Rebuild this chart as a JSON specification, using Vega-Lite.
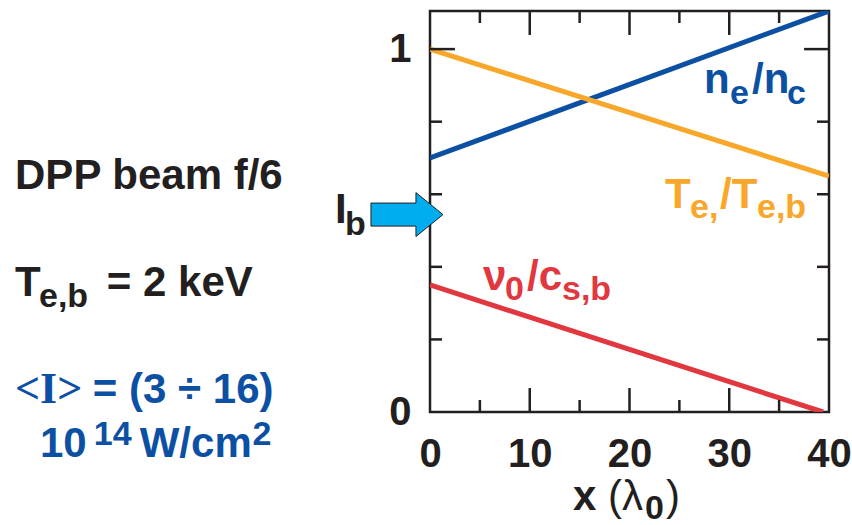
{
  "$schema": "https://vega.github.io/schema/vega-lite/v6.json",
  "width": 399,
  "height": 401,
  "autosize": {"type": "none"},
  "padding": {"left": 430, "top": 11, "right": 23, "bottom": 113},
  "background": "white",
  "config": {
    "view": {"stroke": "#231f20", "strokeWidth": 2.5},
    "axis": {
      "domain": false,
      "grid": false,
      "title": null,
      "tickColor": "#231f20",
      "tickWidth": 2.5,
      "labelFont": "Liberation Sans",
      "labelFontWeight": "bold",
      "labelFontSize": 40,
      "labelColor": "#231f20",
      "labelFlush": false,
      "labelOverlap": false
    }
  },
  "datasets": {
    "lines": [
      {"s": "blue", "x": 0, "y": 0.70},
      {"s": "blue", "x": 40, "y": 1.105},
      {"s": "orange", "x": 0, "y": 1.0},
      {"s": "orange", "x": 40, "y": 0.65},
      {"s": "red", "x": 0, "y": 0.35},
      {"s": "red", "x": 39.4, "y": 0.0}
    ],
    "xmaj": [{"xm": 10}, {"xm": 20}, {"xm": 30}],
    "xminor": [{"v": 5}, {"v": 15}, {"v": 25}, {"v": 35}],
    "ymaj": [{"ym": 1}],
    "yminor": [{"v": 0.2}, {"v": 0.4}, {"v": 0.6}, {"v": 0.8}],
    "big": [
      {"t": "DPP beam f/6", "x": -41.6, "y": 0.614, "c": "dark"},
      {"t": "T", "x": -41.6, "y": 0.320, "c": "dark"},
      {"t": "= 2 keV", "x": -32.4, "y": 0.320, "c": "dark"},
      {"t": "= (3 ÷ 16)", "x": -33.8, "y": 0.025, "c": "blue"},
      {"t": "10", "x": -39.1, "y": -0.124, "c": "blue"},
      {"t": "W/cm", "x": -29.1, "y": -0.124, "c": "blue"},
      {"t": "I", "x": -9.52, "y": 0.521, "c": "dark"},
      {"t": "n", "x": 27.47, "y": 0.879, "c": "blue"},
      {"t": "/n", "x": 32.28, "y": 0.879, "c": "blue"},
      {"t": "T", "x": 23.56, "y": 0.562, "c": "orange"},
      {"t": "/T", "x": 29.07, "y": 0.562, "c": "orange"},
      {"t": "ν", "x": 5.31, "y": 0.336, "c": "red"},
      {"t": "/c", "x": 9.72, "y": 0.336, "c": "red"},
      {"t": "x", "x": 14.34, "y": -0.270, "c": "dark"}
    ],
    "sub": [
      {"t": "e,b", "x": -39.2, "y": 0.289, "c": "dark"},
      {"t": "14", "x": -33.7, "y": -0.091, "c": "blue"},
      {"t": "2", "x": -17.8, "y": -0.091, "c": "blue"},
      {"t": "b", "x": -8.52, "y": 0.488, "c": "dark"},
      {"t": "e", "x": 30.07, "y": 0.848, "c": "blue"},
      {"t": "c", "x": 35.79, "y": 0.848, "c": "blue"},
      {"t": "e,", "x": 26.07, "y": 0.534, "c": "orange"},
      {"t": "e,b", "x": 32.78, "y": 0.534, "c": "orange"},
      {"t": "0", "x": 7.52, "y": 0.309, "c": "red"},
      {"t": "s,b", "x": 13.23, "y": 0.309, "c": "red"},
      {"t": "0", "x": 21.55, "y": -0.295, "c": "dark"}
    ],
    "serif": [
      {"t": "<I>", "x": -41.6, "y": 0.025, "c": "blue"}
    ],
    "reg": [
      {"t": "(λ", "x": 17.84, "y": -0.270, "c": "dark"},
      {"t": ")", "x": 23.66, "y": -0.270, "c": "dark"}
    ],
    "arrow": [
      {"x": -2.31, "y": 0.544}
    ]
  },
  "layer": [
    {
      "data": {"name": "lines"},
      "mark": {"type": "line", "strokeWidth": 5, "clip": true},
      "encoding": {
        "x": {
          "field": "x", "type": "quantitative",
          "scale": {"domain": [0, 40], "nice": false, "zero": false},
          "axis": {
            "orient": "bottom",
            "values": [0, 10, 20, 30, 40],
            "tickSize": -12,
            "tickOpacity": 0,
            "labelPadding": 34
          }
        },
        "y": {
          "field": "y", "type": "quantitative",
          "scale": {"domain": [0, 1.105], "nice": false, "zero": false},
          "axis": {
            "orient": "left",
            "values": [0, 1],
            "format": "d",
            "tickSize": -12,
            "tickOpacity": 0,
            "labelPadding": 31
          }
        },
        "color": {
          "field": "s", "type": "nominal",
          "scale": {"domain": ["dark", "blue", "orange", "red"], "range": ["#231f20", "#0c50a3", "#f8a72a", "#e1373e"]},
          "legend": null
        }
      }
    },
    {
      "data": {"name": "xmaj"},
      "mark": {"type": "rule", "color": "#231f20", "strokeWidth": 2.5},
      "encoding": {
        "x": {"field": "xm", "type": "quantitative", "axis": null},
        "y": {"datum": 0, "type": "quantitative", "axis": null},
        "y2": {"datum": 0.066}
      }
    },
    {
      "data": {"name": "xmaj"},
      "mark": {"type": "rule", "color": "#231f20", "strokeWidth": 2.5},
      "encoding": {
        "x": {"field": "xm", "type": "quantitative", "axis": null},
        "y": {"datum": 1.105, "type": "quantitative", "axis": null},
        "y2": {"datum": 1.039}
      }
    },
    {
      "data": {"name": "ymaj"},
      "mark": {"type": "rule", "color": "#231f20", "strokeWidth": 2.5},
      "encoding": {
        "y": {"field": "ym", "type": "quantitative", "axis": null},
        "x": {"datum": 0, "type": "quantitative", "axis": null},
        "x2": {"datum": 2.5}
      }
    },
    {
      "data": {"name": "ymaj"},
      "mark": {"type": "rule", "color": "#231f20", "strokeWidth": 2.5},
      "encoding": {
        "y": {"field": "ym", "type": "quantitative", "axis": null},
        "x": {"datum": 40, "type": "quantitative", "axis": null},
        "x2": {"datum": 37.5}
      }
    },
    {
      "data": {"name": "xminor"},
      "mark": {"type": "rule", "color": "#231f20", "strokeWidth": 2.5, "y2Offset": -12},
      "encoding": {
        "x": {"field": "v", "type": "quantitative", "axis": null},
        "y": {"datum": 0, "type": "quantitative", "axis": null},
        "y2": {"datum": 0}
      }
    },
    {
      "data": {"name": "xminor"},
      "mark": {"type": "rule", "color": "#231f20", "strokeWidth": 2.5, "y2Offset": 12},
      "encoding": {
        "x": {"field": "v", "type": "quantitative", "axis": null},
        "y": {"datum": 1.105, "type": "quantitative", "axis": null},
        "y2": {"datum": 1.105}
      }
    },
    {
      "data": {"name": "yminor"},
      "mark": {"type": "rule", "color": "#231f20", "strokeWidth": 2.5, "x2Offset": 12},
      "encoding": {
        "y": {"field": "v", "type": "quantitative", "axis": null},
        "x": {"datum": 0, "type": "quantitative", "axis": null},
        "x2": {"datum": 0}
      }
    },
    {
      "data": {"name": "yminor"},
      "mark": {"type": "rule", "color": "#231f20", "strokeWidth": 2.5, "x2Offset": -12},
      "encoding": {
        "y": {"field": "v", "type": "quantitative", "axis": null},
        "x": {"datum": 40, "type": "quantitative", "axis": null},
        "x2": {"datum": 40}
      }
    },
    {
      "data": {"name": "arrow"},
      "mark": {
        "type": "point",
        "shape": "M -1 -0.32 L 0.25 -0.32 L 0.25 -0.61 L 1 0 L 0.25 0.61 L 0.25 0.32 L -1 0.32 Z",
        "size": 5184,
        "filled": true,
        "fill": "#00aeef",
        "stroke": "#231f20",
        "strokeWidth": 1,
        "opacity": 1
      },
      "encoding": {
        "x": {"field": "x", "type": "quantitative", "axis": null},
        "y": {"field": "y", "type": "quantitative", "axis": null}
      }
    },
    {
      "data": {"name": "big"},
      "mark": {"type": "text", "align": "left", "baseline": "alphabetic", "font": "Liberation Sans", "fontWeight": "bold", "fontSize": 42},
      "encoding": {
        "x": {"field": "x", "type": "quantitative", "axis": null},
        "y": {"field": "y", "type": "quantitative", "axis": null},
        "text": {"field": "t"},
        "color": {"field": "c", "type": "nominal", "legend": null}
      }
    },
    {
      "data": {"name": "sub"},
      "mark": {"type": "text", "align": "left", "baseline": "alphabetic", "font": "Liberation Sans", "fontWeight": "bold", "fontSize": 34},
      "encoding": {
        "x": {"field": "x", "type": "quantitative", "axis": null},
        "y": {"field": "y", "type": "quantitative", "axis": null},
        "text": {"field": "t"},
        "color": {"field": "c", "type": "nominal", "legend": null}
      }
    },
    {
      "data": {"name": "serif"},
      "mark": {"type": "text", "align": "left", "baseline": "alphabetic", "font": "Liberation Serif", "fontWeight": "bold", "fontSize": 44},
      "encoding": {
        "x": {"field": "x", "type": "quantitative", "axis": null},
        "y": {"field": "y", "type": "quantitative", "axis": null},
        "text": {"field": "t"},
        "color": {"field": "c", "type": "nominal", "legend": null}
      }
    },
    {
      "data": {"name": "reg"},
      "mark": {"type": "text", "align": "left", "baseline": "alphabetic", "font": "Liberation Sans", "fontWeight": "normal", "fontSize": 42},
      "encoding": {
        "x": {"field": "x", "type": "quantitative", "axis": null},
        "y": {"field": "y", "type": "quantitative", "axis": null},
        "text": {"field": "t"},
        "color": {"field": "c", "type": "nominal", "legend": null}
      }
    }
  ],
  "resolve": {"axis": {"x": "independent", "y": "independent"}}
}
